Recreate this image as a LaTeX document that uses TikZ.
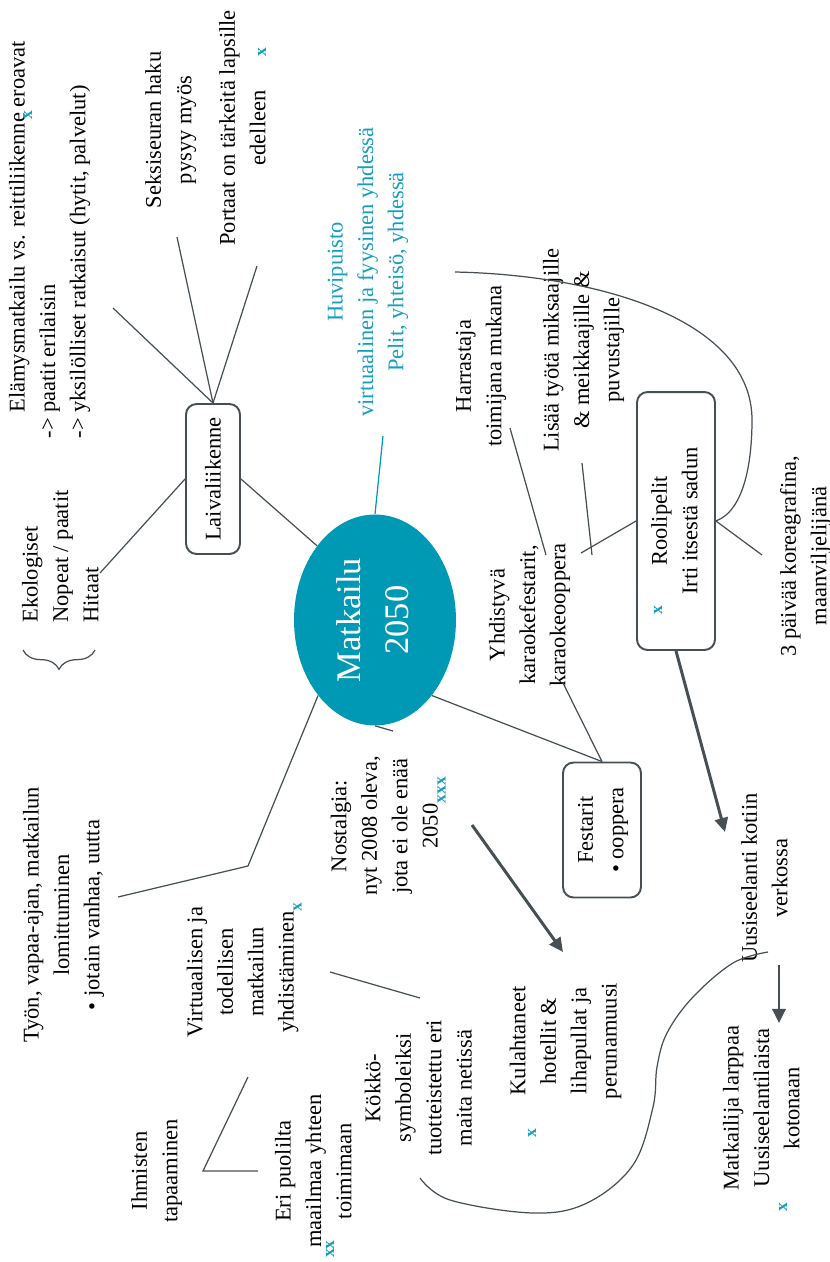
\documentclass[tikz,border=0pt]{standalone}
\usepackage{graphicx}
\usepackage{fontspec}
\setmainfont{Liberation Serif}
\usetikzlibrary{shapes.geometric,arrows.meta,decorations.pathreplacing}
\definecolor{teal0}{RGB}{0,153,181}
\definecolor{cyantext}{RGB}{22,158,190}
\definecolor{linegray}{RGB}{70,80,84}
\newcommand{\rtc}[1]{\rotatebox{90}{\begin{tabular}{@{}c@{}}#1\end{tabular}}}
\newcommand{\rtl}[1]{\rotatebox{90}{\begin{tabular}{@{}l@{}}#1\end{tabular}}}
\newcommand{\mk}[1]{\textcolor{cyantext}{\fontsize{10}{10}\selectfont\bfseries #1}}
\begin{document}
\begin{tikzpicture}[x=0.02cm,y=-0.02cm,
  txt/.style={inner sep=0pt, font=\fontsize{12.8}{17.3}\selectfont},
  conn/.style={draw=linegray, line width=0.7pt},
  cyanconn/.style={draw=teal0, line width=0.7pt},
  bigarrow/.style={draw=linegray, line width=1.7pt, -{Triangle[length=8pt,width=7.5pt]}},
  boxnode/.style={draw=linegray, line width=1.1pt, rounded corners=6pt, fill=white, inner sep=0pt, font=\fontsize{12.8}{17.3}\selectfont},
  xmk/.style={inner sep=0pt}]
\path[use as bounding box] (0,0) rectangle (829,1262);

% connectors drawn behind
\coordinate (ns) at (393,731);
\node[ellipse, fill=teal0, inner sep=0pt, minimum width=3.24cm, minimum height=4.22cm, text=white, font=\fontsize{19.6}{27}\selectfont] (center) at (375,620) {\rtc{Matkailu\\2050}};
\draw[conn] (center.south) -- (ns);

% text nodes
\node[txt, anchor=south] (elamys) at (49,413) {\rtl{Elämysmatkailu vs. reittiliikenne eroavat\\\llap{-> }paatit erilaisin\\\llap{-> }yksilölliset ratkaisut (hytit, palvelut)}};
\node[txt] (seksi) at (170,130) {\rtc{Seksiseuran haku\\pysyy myös}};
\node[txt] (portaat) at (244,128) {\rtc{Portaat on tärkeitä lapsille\\edelleen}};
\node[txt, anchor=south] (ekolog) at (62,623) {\rtl{Ekologiset\\Nopeat / paatit\\Hitaat}};
\node[boxnode, minimum width=1.08cm, minimum height=3.0cm] (laiva) at (213,479) {\rotatebox{90}{Laivaliikenne}};
\node[txt, text=cyantext] (huvi) at (367,272) {\rtc{Huvipuisto\\virtuaalinen ja fyysinen yhdessä\\Pelit, yhteisö, yhdessä}};
\node[txt] (harr) at (480,366) {\rtc{Harrastaja\\toimijana mukana}};
\node[txt] (lisaa) at (583,350) {\rtc{Lisää työtä miksaajille\\\& meikkaajille \&\\puvustajille}};
\node[txt] (yhd) at (529,615) {\rtc{Yhdistyvä\\karaokefestarit,\\karaokeooppera}};
\node[boxnode, minimum width=1.56cm, minimum height=5.16cm] (rooli) at (676,521) {\rtc{Roolipelit\\Irti itsestä sadun}};
\node[txt] (paiva) at (805,556) {\rtc{3 päivää koreagrafina,\\maanviljelijänä}};
\node[boxnode, minimum width=1.56cm, minimum height=2.7cm] (fest) at (602,830) {\rtc{Festarit\\• ooppera}};
\node[txt] (nost) at (386,826) {\rtc{Nostalgia:\\nyt 2008 oleva,\\jota ei ole enää\\2050\rlap{\raisebox{-4.5pt}{\mk{xxx}}}}};
\node[txt] (tyon) at (63,915) {\rtc{Työn, vapaa-ajan, matkailun\\lomittuminen\\• jotain vanhaa, uutta}};
\node[txt] (virt) at (242,972) {\rtc{Virtuaalisen ja\\todellisen\\matkailun\\yhdistäminen\rlap{\raisebox{-4.5pt}{\mk{x}}}}};
\node[txt] (ihm) at (156,1171) {\rtc{Ihmisten\\tapaaminen}};
\node[txt] (eri) at (315,1171) {\rtc{Eri puolilta\\maailmaa yhteen\\toimimaan}};
\node[txt] (kokko) at (420,1088) {\rtc{Kökkö-\\symboleiksi\\tuotteistettu eri\\maita netissä}};
\node[txt] (kul) at (565,1041) {\rtc{Kulahtaneet\\hotellit \&\\lihapullat ja\\perunamuusi}};
\node[txt] (uusi) at (766,878) {\rtc{Uusiseelanti kotiin\\verkossa}};
\node[txt] (matk) at (763,1108) {\rtc{Matkailija larppaa\\Uusiseelantilaista\\kotonaan}};

% cyan comment marks
\node[xmk] (m1) at (28,115) {\rotatebox{90}{\mk{x}}};
\node[xmk] (m2) at (262,52) {\rotatebox{90}{\mk{x}}};
\node[xmk] (m3) at (532,1133) {\rotatebox{90}{\mk{x}}};
\node[xmk] (m4) at (658,610) {\rotatebox{90}{\mk{x}}};
\node[xmk] (m5) at (783,1207) {\rotatebox{90}{\mk{x}}};
\node[xmk] (m6) at (330,1249) {\rotatebox{90}{\mk{xx}}};

% coordinates for free ends
\coordinate (e1) at (113,308);
\coordinate (e2) at (177,237);
\coordinate (e3) at (257,266);
\coordinate (e4) at (100,573);
\coordinate (h1) at (383,436);
\coordinate (tc) at (248,866);
\coordinate (t1) at (118,897);
\coordinate (f1) at (563,683);
\coordinate (hy1) at (510,428);
\coordinate (hy2) at (546,555);
\coordinate (li1) at (582,463);
\coordinate (li2) at (592,555);
\coordinate (ro1) at (581,553);
\coordinate (pa1) at (762,555);
\coordinate (cu1) at (455,272);
\coordinate (na1) at (472,825);
\coordinate (na2) at (563,952);
\coordinate (ra2) at (725,832);
\coordinate (ua1) at (779,965);
\coordinate (ua2) at (779,1023);
\coordinate (vk1) at (330,972);
\coordinate (vk2) at (420,998);
\coordinate (v1) at (248,1077);
\coordinate (v2) at (203,1171);
\coordinate (v3) at (258,1171);
\coordinate (b1) at (95,650);
\coordinate (b2) at (23,650);

% connectors
\draw[conn] (laiva.north) -- (e1);
\draw[conn] (laiva.north) -- (e2);
\draw[conn] (laiva.north) -- (e3);
\draw[conn] (laiva.west) -- (e4);
\draw[conn] (laiva.east) -- (center.128.5);
\draw[cyanconn] (center.north) -- (h1);
\draw[conn] (center.233) -- (tc) -- (t1);
\draw[conn] (center.307) -- (fest.north);
\draw[conn] (fest.north) -- (f1);
\draw[conn] (hy1) -- (hy2);
\draw[conn] (li1) -- (li2);
\draw[conn] (rooli.west) -- (ro1);
\draw[conn] (rooli.east) -- (pa1);
\draw[conn] (rooli.east) .. controls (745,510) and (752,460) .. (752,420)
  .. controls (752,320) and (600,275) .. (cu1);
\draw[conn] plot[smooth, tension=0.6] coordinates {(420,1178) (450,1200) (533,1213) (587,1203) (633,1165) (653,1107) (657,1067) (667,1033) (693,997) (733,963) (768,952)};
\draw[conn] (vk1) -- (vk2);
\draw[conn] (v1) -- (v2) -- (v3);
\draw[bigarrow] (na1) -- (na2);
\draw[bigarrow] (rooli.south) -- (ra2);
\draw[bigarrow] (ua1) -- (ua2);
\draw[conn, decorate, decoration={brace, amplitude=11pt}] (b1) -- (b2);
\end{tikzpicture}
\end{document}
